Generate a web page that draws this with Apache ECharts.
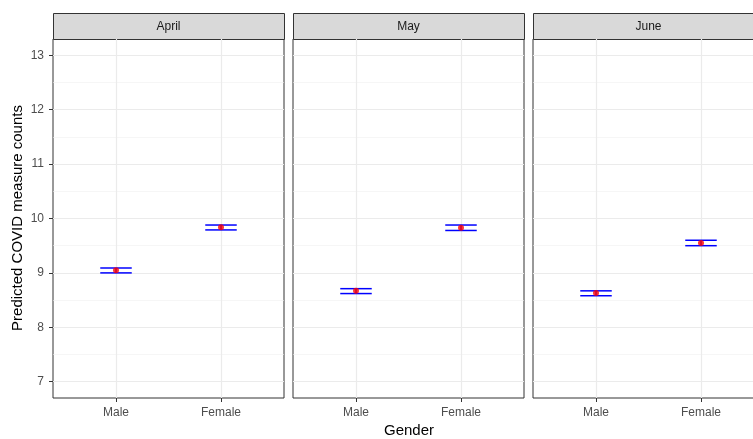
<!DOCTYPE html>
<html>
<head>
<meta charset="utf-8">
<script src="https://cdn.jsdelivr.net/npm/echarts@6/dist/echarts.min.js"></script>
<style>
html, body { margin: 0; padding: 0; background: #fff; }
#chart { width: 753px; height: 439px; }
</style>
</head>
<body>
<div id="chart"></div>
<script>
var months = ['April', 'May', 'June'];
var genders = ['Male', 'Female'];
// predicted value, lower, upper per month, Male then Female
var predMean = [[9.05, 9.84], [8.67, 9.83], [8.63, 9.55]];
var predLow = [[9.00, 9.79], [8.62, 9.78], [8.58, 9.50]];
var predHigh = [[9.09, 9.88], [8.71, 9.88], [8.67, 9.60]];
var yTicks = [7, 8, 9, 10, 11, 12, 13];
var yMinor = [7.5, 8.5, 9.5, 10.5, 11.5, 12.5];

var panelLeft = [53, 293, 533];
var panelWidth = 231;
var panelTop = 39;
var panelHeight = 359;
var capWidth = 0.3;

function renderBar(params, api) {
	var x = api.value(0);
	var lo = api.coord([x, api.value(1)]);
	var hi = api.coord([x, api.value(2)]);
	var half = api.size([capWidth, 0])[0] / 2;
	var style = { stroke: '#0000FF', lineWidth: 1.5 };
	return {
		type: 'group',
		children: [
			{ type: 'line', shape: { x1: lo[0] - half, y1: hi[1], x2: lo[0] + half, y2: hi[1] }, style: style },
			{ type: 'line', shape: { x1: lo[0] - half, y1: lo[1], x2: lo[0] + half, y2: lo[1] }, style: style },
			{ type: 'line', shape: { x1: lo[0], y1: hi[1], x2: lo[0], y2: lo[1] }, style: style }
		]
	};
}

var grids = [], xAxes = [], yAxes = [], series = [], graphics = [];
for (var m = 0; m < months.length; m++) {
	// June panel runs past the right edge of the picture, so no clamping
	grids.push({
		left: panelLeft[m], top: panelTop, width: panelWidth, height: panelHeight,
		outerBoundsMode: 'none',
		show: true, borderColor: '#333333', borderWidth: 1, backgroundColor: 'transparent'
	});
	xAxes.push({
		type: 'value', gridIndex: m, min: -0.6, max: 1.6,
		axisLine: { show: false, onZero: false },
		axisTick: { show: true, length: 4, lineStyle: { color: '#333333' }, customValues: [0, 1] },
		axisLabel: {
			customValues: [0, 1], margin: 9, color: '#4D4D4D', fontSize: 12,
			fontFamily: 'Liberation Sans, Arial, sans-serif',
			formatter: function (v) { return genders[Math.round(v)]; }
		},
		splitLine: { show: true, lineStyle: { color: '#EBEBEB', width: 1.2 } }
	});
	// major y axis
	yAxes.push({
		type: 'value', gridIndex: m, min: 6.7, max: 13.3,
		axisLine: { show: false, onZero: false },
		axisTick: { show: m === 0, length: 4, lineStyle: { color: '#333333' }, customValues: yTicks },
		axisLabel: {
			show: m === 0, customValues: yTicks, margin: 9, color: '#4D4D4D', fontSize: 12,
			fontFamily: 'Liberation Sans, Arial, sans-serif'
		},
		splitLine: { show: true, lineStyle: { color: '#EBEBEB', width: 1.2 } }
	});
	// minor grid lines
	yAxes.push({
		type: 'value', gridIndex: m, min: 6.7, max: 13.3, position: 'left',
		axisLine: { show: false, onZero: false },
		axisTick: { show: false, customValues: yMinor },
		axisLabel: { show: false, customValues: yMinor },
		splitLine: { show: true, lineStyle: { color: '#F0F0F0', width: 0.6 } }
	});
	var barData = [], pointData = [];
	for (var g = 0; g < genders.length; g++) {
		barData.push([g, predLow[m][g], predHigh[m][g]]);
		pointData.push([g, predMean[m][g]]);
	}
	series.push({
		type: 'custom', xAxisIndex: m, yAxisIndex: m * 2, renderItem: renderBar,
		encode: { x: 0, y: [1, 2] }, data: barData, z: 3, silent: true
	});
	series.push({
		type: 'scatter', xAxisIndex: m, yAxisIndex: m * 2, data: pointData,
		symbolSize: 6, itemStyle: { color: '#FF0000' }, z: 4, silent: true
	});
	// facet strip
	graphics.push({
		type: 'rect', left: panelLeft[m], top: 13,
		shape: { width: panelWidth, height: 26 },
		style: { fill: '#D9D9D9', stroke: '#333333', lineWidth: 1 }
	});
	graphics.push({
		type: 'text', x: panelLeft[m] + panelWidth / 2, y: 27,
		style: {
			text: months[m], fill: '#1A1A1A', fontSize: 12,
			fontFamily: 'Liberation Sans, Arial, sans-serif',
			textAlign: 'center', textVerticalAlign: 'middle'
		}
	});
}

graphics.push({
	type: 'text', x: 409, y: 431,
	style: {
		text: 'Gender', fill: '#000000', fontSize: 15,
		fontFamily: 'Liberation Sans, Arial, sans-serif',
		textAlign: 'center', textVerticalAlign: 'middle'
	}
});
graphics.push({
	type: 'text', x: 18, y: 218, rotation: Math.PI / 2,
	style: {
		text: 'Predicted COVID measure counts', fill: '#000000', fontSize: 15,
		fontFamily: 'Liberation Sans, Arial, sans-serif',
		textAlign: 'center', textVerticalAlign: 'middle'
	}
});

var mychart = echarts.init(document.getElementById('chart'));
mychart.setOption({
	animation: false,
	grid: grids,
	xAxis: xAxes,
	yAxis: yAxes,
	series: series,
	graphic: graphics
});
</script>
</body>
</html>
